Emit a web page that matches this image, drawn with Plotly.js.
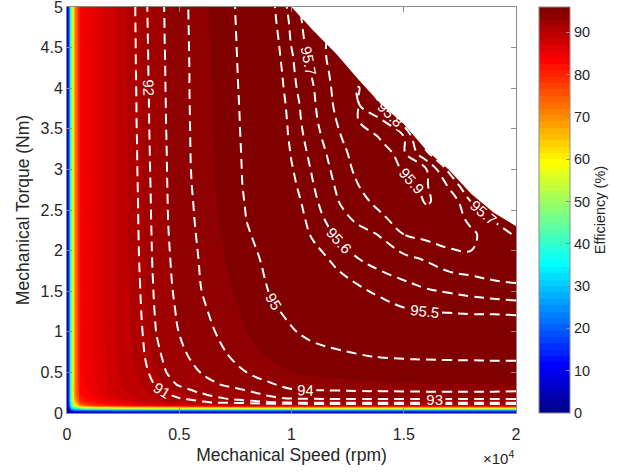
<!DOCTYPE html>
<html>
<head>
<meta charset="utf-8">
<script src="https://cdn.plot.ly/plotly-3.0.1.min.js"></script>
<style>
html, body { margin: 0; padding: 0; background: #ffffff; }
#chart { width: 632px; height: 475px; }
</style>
</head>
<body>
<div id="chart"></div>
<script>
const speedRpm = [0, 100, 200, 350, 600, 1000, 1500, 2000, 2500, 3000, 3500, 4000, 4500, 5000, 5500, 6000, 7000, 8000, 9000, 10000, 11000, 12000, 13000, 14000, 15000, 16000, 17000, 18000, 19000, 20000];
const torqueNm = [0, 0.03, 0.06, 0.09, 0.13, 0.18, 0.25, 0.35, 0.5, 0.7, 1.0, 1.3, 1.6, 1.9, 2.2, 2.4, 2.6, 2.8, 3.0, 3.2, 3.4, 3.6, 3.8, 4.0, 4.2, 4.4, 4.6, 4.8, 5.0];

// efficiency (%) — one row per speed, values over torqueNm (null = outside operating range)
const efficiencyBySpeed = [
  [0,0,0,0,0, 0,0,0,0,0, 0,0,0,0,0, 0,0,0,0,0, 0,0,0,0,0, 0,0,0,0],
  [0,7,13,17,19, 20,20,20,20,20, 20,20,20,20,20, 20,20,20,20,20, 20,20,20,20,20, 20,20,20,20],
  [0,16,30,40,45, 47,48,48,48,48, 48,48,48,48,48, 48,48,48,48,48, 48,48,48,48,48, 48,48,48,48],
  [0,18,40,56,64, 68,70,70,70,70, 70,70,70,70,70, 70,70,70,70,70, 70,70,70,70,70, 70,70,70,70],
  [0,19,47,70,78, 81,83,83.5,83.5,83.5, 83.5,83.5,83.5,83.5,83.5, 83.5,83.5,83.5,83.5,83.5, 83.5,83.5,83.5,83.5,83.5, 83.5,83.5,83.5,83.5],
  [0,20,52,76,81, 83,84,84.5,84.8,85, 85,85,85,85,85, 85,85,85,85,85, 85,85,85,85,85, 85,85,85,85],
  [0,21,54,79,83, 85,85.8,86.1,86.3,86.4, 86.5,86.5,86.5,86.5,86.5, 86.5,86.5,86.5,86.5,86.5, 86.5,86.5,86.5,86.5,86.5, 86.5,86.5,86.5,86.5],
  [0,22,55,81,85, 86.5,87.3,87.6,87.8,87.9, 88,88,88,88,88, 88,88,88,88,88, 88,88,88,88,88, 88,88,88,88],
  [0,22,56,82,86, 87.5,88.3,88.8,89.1,89.25, 89.35,89.4,89.43,89.45,89.47, 89.48,89.5,89.5,89.5,89.5, 89.5,89.5,89.5,89.5,89.5, 89.5,89.5,89.5,89.5],
  [0,22,56,83,86.5, 88.2,88.9,89.45,89.88,90.1, 90.28,90.4,90.49,90.58,90.63, 90.66,90.68,90.71,90.74,90.76, 90.78,90.81,90.82,90.84,90.86, 90.88,90.89,90.91,90.92],
  [0,22,57,84,88.5, 89.17,89.82,90.42,90.82,91.07, 91.27,91.41,91.5,91.58,91.62, 91.64,91.66,91.68,91.71,91.73, 91.75,91.77,91.78,91.8,91.82, 91.83,91.85,91.87,91.89],
  [0,22,57,85,89.25, 90.0,90.57,91.16,91.51,91.79, 92.05,92.17,92.25,92.3,92.34, 92.37,92.39,92.41,92.43,92.45, 92.47,92.49,92.51,92.52,92.54, 92.56,92.58,92.59,92.61],
  [0,22,57,85.5,89.88, 90.49,91.13,91.68,92.08,92.29, 92.55,92.72,92.84,92.91,92.97, 93.0,93.02,93.04,93.06,93.07, 93.09,93.11,93.12,93.14,93.15, 93.16,93.18,93.19,93.21],
  [0,22,58,86,90.21, 90.97,91.47,92.1,92.41,92.71, 93.03,93.18,93.29,93.36,93.42, 93.45,93.48,93.5,93.52,93.54, 93.56,93.57,93.59,93.6,93.62, 93.63,93.64,93.66,93.67],
  [0,22,58,86.5,90.47, 91.24,91.8,92.35,92.74,93.08, 93.37,93.55,93.68,93.78,93.87, 93.91,93.94,93.97,93.99,94.0, 94.01,94.02,94.03,94.04,94.04, 94.05,94.06,94.07,94.08],
  [0,22,58,87,90.82, 91.49,92.07,92.6,93.05,93.36, 93.7,93.92,94.04,94.09,94.14, 94.17,94.19,94.22,94.23,94.24, 94.26,94.27,94.27,94.28,94.29, 94.3,94.31,94.32,94.33],
  [0,22,58,88,91.23, 92.0,92.44,93.08,93.52,93.92, 94.2,94.29,94.39,94.48,94.55, 94.6,94.64,94.69,94.71,94.72, 94.74,94.75,94.76,94.78,94.79, 94.8,94.81,94.82,94.83],
  [0,22,58,89,91.57, 92.4,92.81,93.5,94.0,94.3, 94.5,94.61,94.75,94.86,94.96, 95.01,95.04,95.07,95.08,95.09, 95.1,95.11,95.12,95.13,95.14, 95.15,95.16,95.17,95.18],
  [0,22,58,89.5,91.9, 92.8,93.28,93.92,94.3,94.55, 94.75,94.94,95.04,95.1,95.17, 95.21,95.24,95.27,95.29,95.3, 95.32,95.34,95.36,95.37,95.39, 95.41,95.42,95.44,95.45],
  [0,22,58,89.5,92.12, 93.05,93.85,94.18,94.5,94.75, 94.97,95.1,95.2,95.27,95.37, 95.41,95.44,95.47,95.49,95.51, 95.53,95.54,95.55,95.57,95.58, 95.59,95.61,95.62,95.64],
  [0,22,58,89.5,92.2, 93.1,93.87,94.28,94.6,94.87, 95.1,95.25,95.33,95.43,95.53, 95.56,95.58,95.6,95.62,95.64, 95.66,95.68,95.69,95.7,95.72, 95.74,95.77,95.79,95.8],
  [0,22,58,89.5,92.2, 93.12,93.87,94.35,94.65,94.93, 95.17,95.33,95.44,95.54,95.61, 95.65,95.69,95.71,95.73,95.75, 95.78,95.8,95.82,95.83,95.84, 95.85,95.82,95.78,null],
  [0,22,58,89.5,92.25, 93.15,93.9,94.4,94.72,94.98, 95.22,95.4,95.51,95.6,95.66, 95.73,95.78,95.8,95.83,95.85, 95.87,95.901,95.902,95.908,95.85, 95.75,null,null,null],
  [0,22,58,89.5,92.25, 93.15,93.9,94.42,94.76,95.02, 95.28,95.46,95.56,95.64,95.71, 95.79,95.82,95.85,95.87,95.885, 95.905,95.91,95.8,95.7,95.6, null,null,null,null],
  [0,22,58,89.5,92.25, 93.15,93.92,94.45,94.8,95.04, 95.32,95.5,95.59,95.675,95.8, 95.83,95.86,95.885,95.905,95.915, 95.905,95.75,95.62,null,null, null,null,null,null],
  [0,22,58,89.5,92.25, 93.15,93.93,94.47,94.81,95.05, 95.35,95.53,95.62,95.71,95.83, 95.87,95.905,95.91,95.905,95.72, 95.6,null,null,null,null, null,null,null,null],
  [0,22,58,89.5,92.25, 93.15,93.93,94.48,94.81,95.06, 95.36,95.54,95.64,95.765,95.845, 95.87,95.88,95.79,95.68,95.55, null,null,null,null,null, null,null,null,null],
  [0,22,58,89.5,92.25, 93.15,93.93,94.49,94.82,95.06, 95.37,95.55,95.66,95.79,95.82, 95.77,95.7,95.6,95.5,null, null,null,null,null,null, null,null,null,null],
  [0,22,58,89.5,92.25, 93.15,93.93,94.5,94.82,95.07, 95.37,95.55,95.69,95.775,95.745, 95.69,95.6,95.5,null,null, null,null,null,null,null, null,null,null,null],
  [0,22,58,89.5,92.25, 93.15,93.9,94.45,94.82,95.07, 95.37,95.56,95.7,95.76,95.69, 95.62,95.52,null,null,null, null,null,null,null,null, null,null,null,null]
];

// maximum torque envelope (operating limit)
const envelopeSpeed = [10000, 10500, 11000, 12000, 13000, 14000, 15000, 16000, 17000, 18000, 19000, 20000];
const envelopeTorque = [5, 4.85, 4.70, 4.42, 4.10, 3.80, 3.56, 3.24, 3.00, 2.70, 2.47, 2.30];
const torqueAxisMax = 5;

// tick labels
const speedTickVals = [0, 5000, 10000, 15000, 20000];
const speedTickText = ['0', '0.5', '1', '1.5', '2'];
const torqueTickVals = [0, 0.5, 1, 1.5, 2, 2.5, 3, 3.5, 4, 4.5, 5];
const effTickVals = [0, 10, 20, 30, 40, 50, 60, 70, 80, 90];

// ---- MATLAB jet(64) colours ----
function jet64(i) { // i = 1..64
  const r = i < 25 ? 0 : (i <= 40 ? (i - 24) / 16 : (i <= 56 ? 1 : (72 - i) / 16));
  const g = i < 9 ? 0 : (i <= 24 ? (i - 8) / 16 : (i <= 40 ? 1 : (i <= 56 ? (56 - i) / 16 : 0)));
  const b = i <= 8 ? (i + 8) / 16 : (i <= 24 ? 1 : (i <= 40 ? (40 - i) / 16 : 0));
  return 'rgb(' + Math.round(r * 255) + ',' + Math.round(g * 255) + ',' + Math.round(b * 255) + ')';
}
// colorscale sampled by Plotly contour fills (band k -> position k/65)
const fillScale = [[0, jet64(1)]];
for (let k = 1; k <= 64; k++) fillScale.push([k / 65, jet64(k)]);
fillScale.push([1, jet64(64)]);
// stepped colorscale for the colour bar (64 discrete bands on 0..96)
const stepScale = [];
for (let k = 1; k <= 64; k++) { stepScale.push([(k - 1) / 64, jet64(k)]); stepScale.push([k / 64, jet64(k)]); }

const FONT = 'Liberation Sans, Arial, Helvetica, sans-serif';
const TEXT = '#262626';
const AXC = '#8c8c8c';
const DASH = {color: '#ffffff', width: 2, dash: '10px,6px', smoothing: 1.1};
const LABELFONT = {family: FONT, size: 15, color: '#ffffff'};

const traces = [
  { // colour bar only (invisible heatmap)
    type: 'heatmap', x: speedRpm, y: torqueNm, z: efficiencyBySpeed, transpose: true,
    zmin: 0, zmax: 96, colorscale: stepScale, opacity: 0, hoverinfo: 'skip', showscale: true,
    colorbar: {
      x: 1.051, xanchor: 'left', y: 0.5, yanchor: 'middle', len: 1, lenmode: 'fraction',
      thickness: 31, thicknessmode: 'pixels', xpad: 0, ypad: 0,
      outlinewidth: 1, outlinecolor: AXC, ticks: 'inside', ticklen: 4, tickcolor: AXC,
      tickvals: effTickVals, tickfont: {family: FONT, size: 14.5, color: TEXT},
      title: {text: 'Efficiency (%)', side: 'right', font: {family: FONT, size: 14.5, color: TEXT}}
    }
  },
  { // filled efficiency map
    type: 'contour', x: speedRpm, y: torqueNm, z: efficiencyBySpeed, transpose: true,
    autocontour: false, zauto: false, zmin: -0.75, zmax: 96.75,
    colorscale: fillScale, showscale: false, hoverinfo: 'skip',
    contours: {start: 0, end: 96, size: 1.5, coloring: 'fill', showlines: false},
    line: {width: 0, smoothing: 0.9}
  },
  { // dashed iso-efficiency lines 91..95
    type: 'contour', x: speedRpm, y: torqueNm, z: efficiencyBySpeed, transpose: true,
    autocontour: false, showscale: false, hoverinfo: 'skip',
    contours: {start: 91, end: 95, size: 1, coloring: 'none', showlabels: true, labelfont: LABELFONT},
    line: DASH
  },
  { // dashed iso-efficiency lines 95.5..95.9
    type: 'contour', x: speedRpm, y: torqueNm, z: efficiencyBySpeed, transpose: true,
    autocontour: false, showscale: false, hoverinfo: 'skip',
    contours: {start: 95.5, end: 95.91, size: 0.1, coloring: 'none', showlabels: true, labelfont: LABELFONT},
    line: DASH
  },
  { // operating envelope (lower edge of blank region)
    type: 'scatter', x: envelopeSpeed, y: envelopeTorque, mode: 'lines',
    line: {width: 0, color: 'rgba(255,255,255,0)'}, hoverinfo: 'skip', showlegend: false
  },
  { // blank region above the envelope
    type: 'scatter', x: envelopeSpeed, y: envelopeSpeed.map(function () { return torqueAxisMax; }),
    mode: 'lines', line: {width: 0, color: 'rgba(255,255,255,0)'},
    fill: 'tonexty', fillcolor: '#ffffff', hoverinfo: 'skip', showlegend: false
  }
];

const layout = {
  width: 632, height: 475,
  margin: {l: 67, r: 116, t: 7, b: 62, pad: 0},
  paper_bgcolor: '#ffffff', plot_bgcolor: '#ffffff',
  font: {family: FONT, size: 16, color: TEXT},
  showlegend: false,
  xaxis: {
    range: [0, 20000], tickvals: speedTickVals, ticktext: speedTickText,
    ticks: 'inside', ticklen: 5, tickcolor: AXC, showline: true, linecolor: AXC, linewidth: 1,
    mirror: 'ticks', zeroline: false, showgrid: false, ticklabeloverflow: 'allow',
    ticklabelstandoff: 7,
    tickfont: {family: FONT, size: 16, color: TEXT},
    title: {text: 'Mechanical Speed (rpm)', font: {family: FONT, size: 17.5, color: TEXT}, standoff: 6}
  },
  yaxis: {
    range: [0, torqueAxisMax], tickvals: torqueTickVals,
    ticks: 'inside', ticklen: 5, tickcolor: AXC, showline: true, linecolor: AXC, linewidth: 1,
    mirror: 'ticks', zeroline: false, showgrid: false, ticklabeloverflow: 'allow',
    tickfont: {family: FONT, size: 16, color: TEXT},
    title: {text: 'Mechanical Torque (Nm)', font: {family: FONT, size: 17.5, color: TEXT}, standoff: 6}
  },
  annotations: [{
    text: '×10<sup>4</sup>', xref: 'paper', yref: 'paper', x: 1.0, y: 0,
    xanchor: 'right', yanchor: 'top', yshift: -33, showarrow: false,
    font: {family: FONT, size: 15, color: TEXT}
  }]
};

Plotly.newPlot('chart', traces, layout, {staticPlot: true, displayModeBar: false});
</script>
</body>
</html>
